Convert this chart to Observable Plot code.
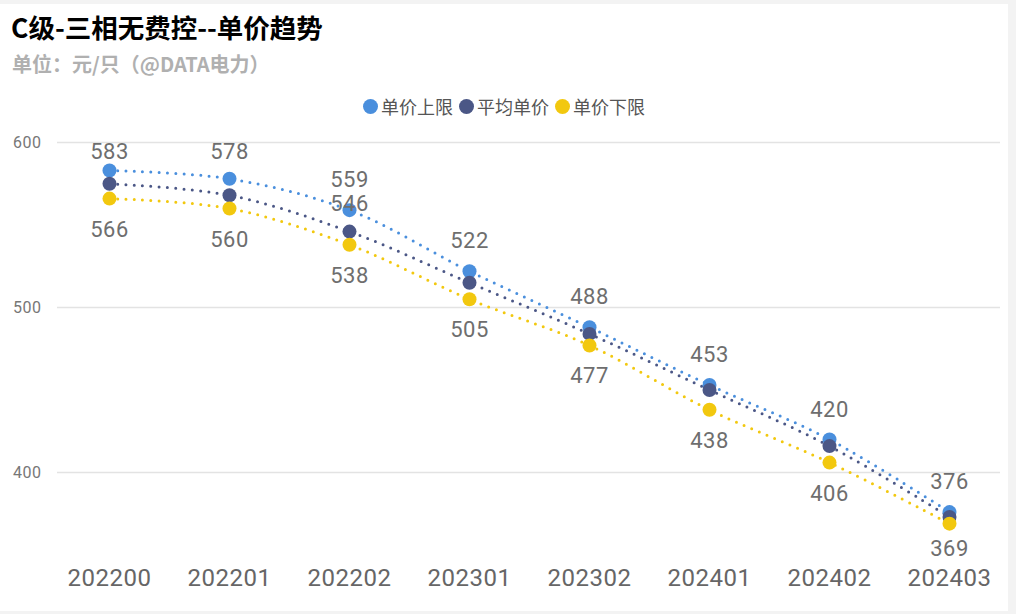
<!DOCTYPE html>
<html>
<head>
<meta charset="utf-8">
<script src="https://cdn.jsdelivr.net/npm/d3@7"></script>
<script src="https://cdn.jsdelivr.net/npm/@observablehq/plot@0.6"></script>
<style>
  body { margin:0; background:#f3f3f3; width:1016px; height:614px; overflow:hidden; font-family:"Noto Sans CJK SC", "Noto Sans", sans-serif; }
  #card { position:absolute; left:0; top:4px; width:1008px; height:607px; background:#fff; }
  #title { position:absolute; left:11px; top:7px; font-size:26.5px; line-height:32px; font-weight:bold; color:#000; white-space:nowrap; }
  #subtitle { position:absolute; left:12px; top:47px; font-size:20px; line-height:26px; font-weight:bold; color:#b0b0b0; white-space:nowrap; }
  #legend { position:absolute; left:0; top:90px; width:1008px; display:flex; justify-content:center; align-items:center; font-size:18px; line-height:24px; color:#555; }
  .item { display:flex; align-items:center; margin:0 3px; }
  .sw { width:15px; height:15px; border-radius:50%; margin-right:3px; }
  #chart { position:absolute; left:0; top:116px; }
</style>
</head>
<body>
<div id="card">
  <div id="title">C级-三相无费控--单价趋势</div>
  <div id="subtitle">单位：元/只（@DATA电力）</div>
  <div id="legend"></div>
  <div id="chart"></div>
</div>
<script>
const months = ["202200","202201","202202","202301","202302","202401","202402","202403"];
const seriesNames = ["单价上限","平均单价","单价下限"];
const seriesColors = ["#4A8FDD","#4B5786","#F2C80F"];
const upper = [583,578,559,522,488,453,420,376];
const avg   = [575,568,546,515,484,450,416,373];
const lower = [566,560,538,505,477,438,406,369];
const yTicks = [400,500,600];
const avgLabelMonths = ["202202"];

const seriesValues = [upper, avg, lower];
const rows = [];
seriesNames.forEach((s, si) => months.forEach((m, i) => rows.push({series:s, month:m, value:seriesValues[si][i]})));

// legend
const legend = document.getElementById("legend");
seriesNames.forEach((s, i) => {
  const it = document.createElement("div");
  it.className = "item";
  it.innerHTML = `<span class="sw" style="background:${seriesColors[i]}"></span><span>${s}</span>`;
  legend.appendChild(it);
});

const labelFont = "Roboto, 'Noto Sans', sans-serif";
// keep data labels inside the plot area, as the original tool does
const clampTop = (index, scales, values, dimensions, context, next) => {
  const minY = scales.y(600) + 39;
  const y = Float64Array.from(values.y, v => Math.max(v, minY));
  return next(index, scales, {...values, y}, dimensions, context);
};
const clampBottom = (index, scales, values, dimensions, context, next) => {
  const maxY = scales.y(400) + 45;
  const y = Float64Array.from(values.y, v => Math.min(v, maxY));
  return next(index, scales, {...values, y}, dimensions, context);
};

const chart = Plot.plot({
  width: 1008,
  height: 490,
  marginTop: 5.5,
  marginBottom: 63.75,
  marginLeft: 57,
  marginRight: 8,
  style: {fontFamily: labelFont, background: "transparent", overflow: "visible"},
  x: {type: "point", domain: months, padding: 0.41},
  y: {domain: [355, 610]},
  color: {domain: seriesNames, range: seriesColors},
  marks: [
    Plot.gridY(yTicks, {stroke: "#e3e3e3", strokeOpacity: 1, strokeWidth: 1.5}),
    Plot.axisY(yTicks, {tickSize: 0, tickPadding: 16, fontSize: 16, fill: "#777", label: null}),
    Plot.axisX({tickSize: 0, tickPadding: 22, fontSize: 24, fill: "#666", label: null}),
    Plot.line(rows, {x: "month", y: "value", z: "series", stroke: "series", strokeWidth: 3, strokeDasharray: "0 8.3", strokeLinecap: "round", curve: "catmull-rom"}),
    Plot.dot(rows, {x: "month", y: "value", fill: "series", r: 7}),
    Plot.text(rows.filter(d => d.series === seriesNames[0]), {x: "month", y: "value", text: d => d.value, dy: -30, fontSize: 22, fill: "#6e6e6e", lineAnchor: "middle", render: clampTop}),
    Plot.text(rows.filter(d => d.series === seriesNames[2]), {x: "month", y: "value", text: d => d.value, dy: 31, fontSize: 22, fill: "#6e6e6e", lineAnchor: "middle", render: clampBottom}),
    Plot.text(rows.filter(d => d.series === seriesNames[1] && avgLabelMonths.includes(d.month)), {x: "month", y: "value", text: d => d.value, dy: -28, fontSize: 22, fill: "#6e6e6e", lineAnchor: "middle"})
  ]
});
chart.querySelectorAll("text").forEach(t => t.style.letterSpacing = "0.5px");
document.getElementById("chart").appendChild(chart);
</script>
</body>
</html>
